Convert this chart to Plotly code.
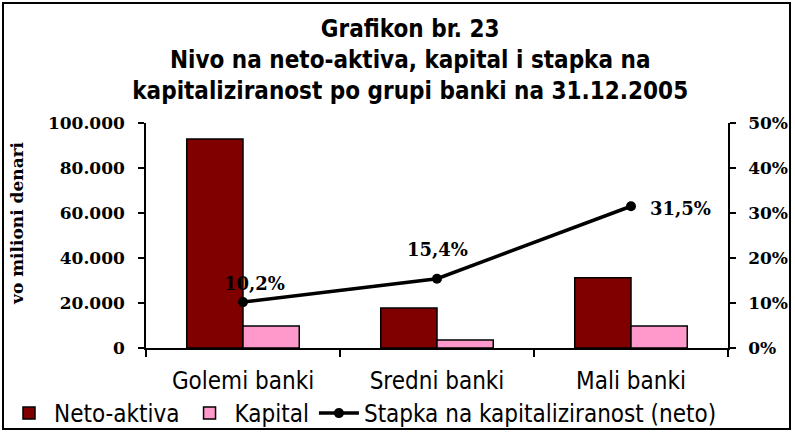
import plotly.graph_objects as go

categories = ["Golemi banki", "Sredni banki", "Mali banki"]
neto_aktiva = [92900, 17800, 31200]
kapital = [9800, 3600, 9800]
stapka = [10.2, 15.4, 31.5]
stapka_labels = ["10,2%", "15,4%", "31,5%"]

title_text = ("Grafikon br. 23<br>Nivo na neto-aktiva, kapital i stapka na<br>"
              "kapitaliziranost po grupi banki na 31.12.2005")
y_title = "vo milioni denari"

NARROW = "DejaVu Sans Condensed, DejaVu Sans, sans-serif"
SERIF = "DejaVu Serif, serif"

fig = go.Figure()
fig.add_trace(go.Bar(x=categories, y=neto_aktiva, name="Neto-aktiva",
                     marker=dict(color="#800000", line=dict(color="black", width=1.5))))
fig.add_trace(go.Bar(x=categories, y=kapital, name="Kapital",
                     marker=dict(color="#FF99CC", line=dict(color="black", width=1.5))))
fig.add_trace(go.Scatter(x=categories, y=stapka, name="Stapka na kapitaliziranost (neto)",
                         yaxis="y2", mode="lines+markers",
                         line=dict(color="black", width=3.5),
                         marker=dict(color="black", size=10)))

# data labels
offsets = [(11, 19), (0, 29), (49, -2)]
for c, v, t, (dx, dy) in zip(categories, stapka, stapka_labels, offsets):
    fig.add_annotation(x=c, y=v, xref="x", yref="y2", text=t, showarrow=False,
                       xshift=dx, yshift=dy,
                       font=dict(family=SERIF, size=18, color="black", weight="bold"))

L, R, T, B = 146, 67, 123, 84
W, H = 795, 432
pw, ph = W - L - R, H - T - B

def px(x):
    return (x - L) / pw

def py(y):
    return (H - B - y) / ph

# y-axis title
fig.add_annotation(x=px(17), y=py(223), xref="paper", yref="paper", text=y_title,
                   textangle=-90, showarrow=False, xanchor="center", yanchor="middle",
                   font=dict(family=SERIF, size=17, color="black", weight="bold"))

fig.add_shape(type="rect", xref="paper", yref="paper",
              x0=px(3), x1=px(790), y0=py(3), y1=py(429),
              line=dict(color="black", width=2), fillcolor="rgba(0,0,0,0)")

fig.update_layout(
    width=W, height=H,
    margin=dict(l=L, r=R, t=T, b=B, autoexpand=False),
    paper_bgcolor="white", plot_bgcolor="white",
    separators=",.",
    barmode="group", bargap=0.42, bargroupgap=0,
    title=dict(text=title_text, x=0.516, xref="container", xanchor="center",
               y=1 - 37 / H, yref="container", yanchor="middle",
               font=dict(family=NARROW, size=24, color="black", weight="bold")),
    xaxis=dict(showline=True, linecolor="black", linewidth=1.5, automargin=False,
               ticks="outside", ticklen=7, tickcolor="black", tickwidth=1.5,
               tickson="boundaries", ticklabelstandoff=10,
               tickfont=dict(family=NARROW, size=24, color="black")),
    yaxis=dict(range=[0, 100000], dtick=20000, tickformat=",d", automargin=False,
               showline=True, linecolor="black", linewidth=1.5, showgrid=False,
               zeroline=False,
               ticks="outside", ticklen=6, tickcolor="black", tickwidth=1.5,
               ticklabelstandoff=10,
               tickfont=dict(family=SERIF, size=17, color="black", weight="bold")),
    yaxis2=dict(range=[0, 50], dtick=10, ticksuffix="%", overlaying="y", side="right",
                automargin=False,
                showline=True, linecolor="black", linewidth=1.5, showgrid=False,
                zeroline=False,
                ticks="outside", ticklen=6, tickcolor="black", tickwidth=1.5,
                ticklabelstandoff=9,
                tickfont=dict(family=SERIF, size=17, color="black", weight="bold")),
    yaxis3=dict(range=[0, 100000], dtick=20000, overlaying="y", side="left", anchor="x",
                showgrid=False, zeroline=False, showticklabels=False, automargin=False,
                ticks="inside", ticklen=6, tickcolor="black", tickwidth=1.5),
    yaxis4=dict(range=[0, 50], dtick=10, overlaying="y", side="right", anchor="x",
                showgrid=False, zeroline=False, showticklabels=False, automargin=False,
                ticks="inside", ticklen=6, tickcolor="black", tickwidth=1.5),
    legend=dict(orientation="h", x=px(4), y=py(391), xanchor="left", yanchor="top",
                font=dict(family=NARROW, size=24, color="black"),
                itemwidth=40, tracegroupgap=0, bgcolor="rgba(0,0,0,0)"),
    showlegend=True,
)

fig.write_html("out.html", config={"displayModeBar": False},
               post_script="document.body.style.margin='0';"
                           "document.body.style.overflow='hidden';")
